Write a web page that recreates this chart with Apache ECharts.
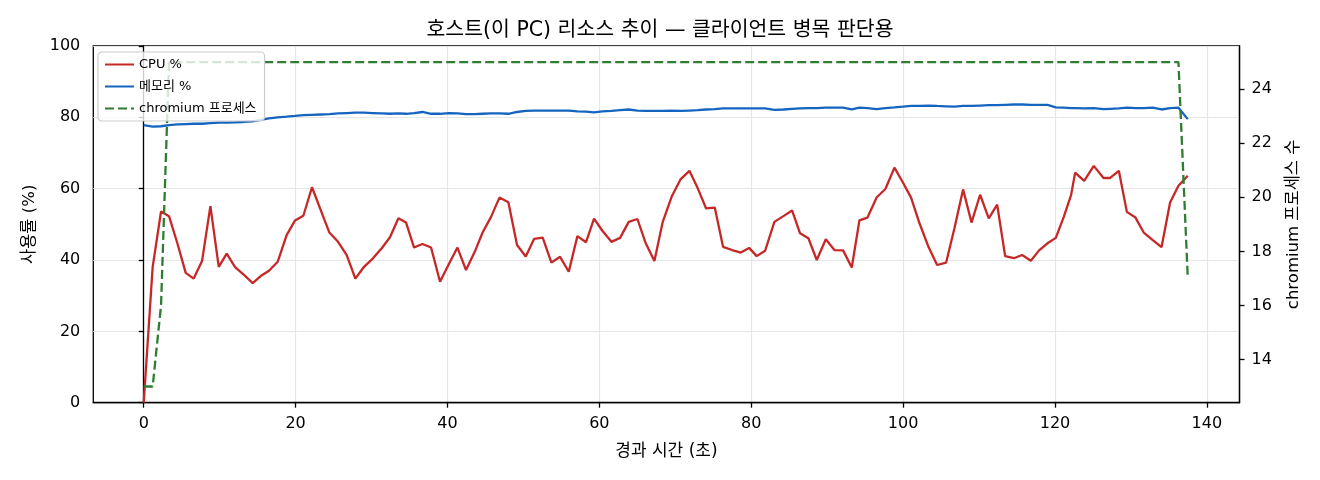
<!DOCTYPE html>
<html>
<head>
<meta charset="utf-8">
<script src="https://cdn.jsdelivr.net/npm/echarts@6/dist/echarts.min.js"></script>
<style>
html,body{margin:0;padding:0;background:#fff;}
#chart{width:1320px;height:480px;}
</style>
</head>
<body>
<div id="chart"></div>
<script>
const titleText = '호스트(이 PC) 리소스 추이 — 클라이언트 병목 판단용';
const xTicks = [0, 20, 40, 60, 80, 100, 120, 140];
const rightTicks = [14, 16, 18, 20, 22, 24];

const times = [
  0, 1.18, 2.28, 3.33, 4.43, 5.53, 6.58, 7.68, 8.78, 9.88,
  10.93, 12.03, 13.12, 14.35, 15.40, 16.50, 17.64, 18.82, 19.93, 21.02,
  22.16, 23.31, 24.45, 25.59, 26.73, 27.87, 29.01, 30.16, 31.34, 32.43,
  33.54, 34.55, 35.60, 36.70, 37.84, 39.02, 40.17, 41.31, 42.44, 43.59,
  44.64, 45.74, 46.84, 48.02, 49.16, 50.31, 51.40, 52.54, 53.69, 54.83,
  55.97, 57.11, 58.25, 59.30, 60.40, 61.59, 62.73, 63.87, 65.01, 66.11,
  67.25, 68.35, 69.53, 70.72, 71.86, 72.96, 74.05, 75.20, 76.29, 77.48,
  78.62, 79.72, 80.72, 81.83, 83.05, 84.24, 85.38, 86.43, 87.53, 88.63,
  89.82, 90.95, 92.10, 93.24, 94.25, 95.31, 96.53, 97.67, 98.86, 99.96,
  101.05, 102.16, 103.34, 104.48, 105.67, 106.76, 107.90, 109.01, 110.14, 111.28,
  112.39, 113.44, 114.58, 115.68, 116.82, 117.91, 119.01, 120.11, 121.16, 122.12,
  122.66, 123.85, 125.11, 126.39, 127.27, 128.41, 129.47, 130.60, 131.69, 132.88,
  134.03, 135.16, 136.26, 137.49
];

const cpu = [
  0, 38.1, 53.6, 52.3, 44.7, 36.4, 34.8, 39.7, 55.1, 38.1,
  41.8, 38.0, 36.0, 33.5, 35.5, 37.0, 39.5, 47.0, 51.1, 52.4,
  60.4, 54.0, 47.7, 45.1, 41.4, 34.8, 38.1, 40.4, 43.3, 46.4,
  51.7, 50.5, 43.5, 44.5, 43.5, 33.9, 38.8, 43.5, 37.2, 42.3,
  47.8, 52.1, 57.5, 56.2, 44.2, 41.0, 45.9, 46.3, 39.3, 40.9,
  36.7, 46.7, 45.0, 51.6, 48.2, 45.1, 46.2, 50.7, 51.5, 44.7,
  39.7, 50.7, 57.8, 62.7, 65.0, 60.1, 54.5, 54.7, 43.7, 42.8,
  42.1, 43.4, 41.1, 42.6, 50.7, 52.3, 53.9, 47.5, 46.1, 40.0,
  45.8, 42.8, 42.7, 37.9, 51.1, 51.9, 57.6, 59.9, 65.9, 61.8,
  57.5, 50.3, 43.7, 38.6, 39.3, 48.9, 59.8, 50.5, 58.3, 51.7,
  55.5, 41.1, 40.5, 41.4, 39.8, 42.7, 44.7, 46.2, 52.1, 58.2,
  64.5, 62.2, 66.4, 63.0, 63.0, 65.0, 53.5, 51.9, 47.7, 45.6,
  43.6, 56.1, 60.8, 63.6
];

const memory = [
  77.8, 77.4, 77.5, 77.8, 78.0, 78.1, 78.2, 78.2, 78.4, 78.5,
  78.5, 78.6, 78.7, 78.9, 79.3, 79.7, 80.0, 80.2, 80.4, 80.6,
  80.7, 80.8, 80.9, 81.1, 81.2, 81.3, 81.3, 81.2, 81.1, 81.0,
  81.1, 81.0, 81.2, 81.5, 81.0, 81.0, 81.2, 81.1, 80.9, 80.9,
  81.0, 81.1, 81.1, 81.0, 81.5, 81.8, 81.9, 81.9, 81.9, 81.9,
  81.9, 81.7, 81.6, 81.4, 81.7, 81.8, 82.0, 82.2, 81.9, 81.8,
  81.8, 81.8, 81.9, 81.8, 81.9, 82.0, 82.2, 82.3, 82.5, 82.5,
  82.5, 82.5, 82.5, 82.5, 82.1, 82.2, 82.4, 82.5, 82.6, 82.6,
  82.7, 82.7, 82.7, 82.2, 82.7, 82.6, 82.3, 82.6, 82.8, 83.0,
  83.2, 83.2, 83.3, 83.2, 83.1, 83.0, 83.2, 83.2, 83.3, 83.4,
  83.4, 83.5, 83.6, 83.6, 83.5, 83.5, 83.5, 82.8, 82.7, 82.6,
  82.6, 82.5, 82.6, 82.3, 82.4, 82.5, 82.7, 82.6, 82.6, 82.7,
  82.2, 82.6, 82.7, 79.5
];

const chromium = [
  13, 13, 16,
  25, 25, 25, 25, 25, 25, 25, 25, 25, 25, 25, 25, 25, 25, 25, 25, 25, 25, 25, 25,
  25, 25, 25, 25, 25, 25, 25, 25, 25, 25, 25, 25, 25, 25, 25, 25, 25, 25, 25, 25,
  25, 25, 25, 25, 25, 25, 25, 25, 25, 25, 25, 25, 25, 25, 25, 25, 25, 25, 25, 25,
  25, 25, 25, 25, 25, 25, 25, 25, 25, 25, 25, 25, 25, 25, 25, 25, 25, 25, 25, 25,
  25, 25, 25, 25, 25, 25, 25, 25, 25, 25, 25, 25, 25, 25, 25, 25, 25, 25, 25, 25,
  25, 25, 25, 25, 25, 25, 25, 25, 25, 25, 25, 25, 25, 25, 25, 25, 25, 25, 25, 25,
  17
];

const FONT = "'DejaVu Sans', 'Noto Sans CJK KR', sans-serif";
const pair = (arr) => times.map((t, i) => [t, arr[i]]);

const chart = echarts.init(document.getElementById('chart'), null, {renderer: 'canvas'});
chart.setOption({
  backgroundColor: '#fff',
  animation: false,
  textStyle: {fontFamily: FONT, color: '#000'},
  title: {
    text: titleText,
    left: 'center',
    top: 15,
    textStyle: {fontFamily: FONT, fontSize: 20.5, fontWeight: 'normal', color: '#000'}
  },
  legend: {
    left: 98,
    top: 52,
    orient: 'vertical',
    itemWidth: 29,
    itemHeight: 14,
    itemGap: 9,
    padding: [6, 8, 6, 6],
    backgroundColor: 'rgba(255,255,255,0.8)',
    borderColor: '#cccccc',
    borderWidth: 1.2,
    borderRadius: 4,
    itemStyle: {opacity: 0},
    textStyle: {fontFamily: FONT, fontSize: 13, color: '#000'},
    data: ['CPU %', '메모리 %', 'chromium 프로세스']
  },
  grid: {
    left: 93.3, right: 80.5, top: 46, bottom: 77.3,
    show: true, borderColor: '#000', borderWidth: 1.3, backgroundColor: 'transparent'
  },
  xAxis: {
    type: 'value',
    min: -6.64,
    max: 144.3,
    name: '경과 시간 (초)',
    nameLocation: 'middle',
    nameGap: 40,
    nameTextStyle: {fontFamily: FONT, fontSize: 17, color: '#000'},
    axisLine: {show: true, onZero: false, lineStyle: {color: '#000', width: 1.3}},
    axisTick: {show: true, length: 5, customValues: xTicks, lineStyle: {color: '#000', width: 1.3}},
    axisLabel: {customValues: xTicks, margin: 13, fontFamily: FONT, fontSize: 16, color: '#000'},
    splitLine: {show: true, lineStyle: {color: '#e6e6e6', width: 1.2}}
  },
  yAxis: [
    {
      type: 'value',
      min: 0, max: 100, interval: 20,
      name: '사용률 (%)',
      nameLocation: 'middle',
      nameGap: 55,
      nameTextStyle: {fontFamily: FONT, fontSize: 16.5, color: '#000'},
      axisLine: {show: true, lineStyle: {color: '#000', width: 1.3}},
      axisTick: {show: true, length: 5, lineStyle: {color: '#000', width: 1.3}},
      axisLabel: {margin: 13, fontFamily: FONT, fontSize: 16, color: '#000'},
      splitLine: {show: true, lineStyle: {color: '#e6e6e6', width: 1.2}}
    },
    {
      type: 'value',
      position: 'right',
      min: 12.4, max: 25.6,
      name: 'chromium 프로세스 수',
      nameLocation: 'middle',
      nameGap: 46,
      nameTextStyle: {fontFamily: FONT, fontSize: 16.5, color: '#000'},
      axisLine: {show: true, lineStyle: {color: '#000', width: 1.3}},
      axisTick: {show: true, length: 5, customValues: rightTicks, lineStyle: {color: '#000', width: 1.3}},
      axisLabel: {customValues: rightTicks, margin: 12, fontFamily: FONT, fontSize: 16, color: '#000'},
      splitLine: {show: false}
    }
  ],
  series: [
    {
      name: 'CPU %', type: 'line', yAxisIndex: 0,
      data: pair(cpu), symbol: 'none', showSymbol: false,
      lineStyle: {color: '#c62828', width: 2.3},
      itemStyle: {color: '#c62828'}, z: 3
    },
    {
      name: '메모리 %', type: 'line', yAxisIndex: 0,
      data: pair(memory), symbol: 'none', showSymbol: false,
      lineStyle: {color: '#1565c0', width: 2.3},
      itemStyle: {color: '#1565c0'}, z: 3
    },
    {
      name: 'chromium 프로세스', type: 'line', yAxisIndex: 1,
      data: pair(chromium), symbol: 'none', showSymbol: false,
      lineStyle: {color: '#2e7d32', width: 2.3, type: [9, 4]},
      itemStyle: {color: '#2e7d32'}, z: 3
    }
  ]
});
</script>
</body>
</html>
